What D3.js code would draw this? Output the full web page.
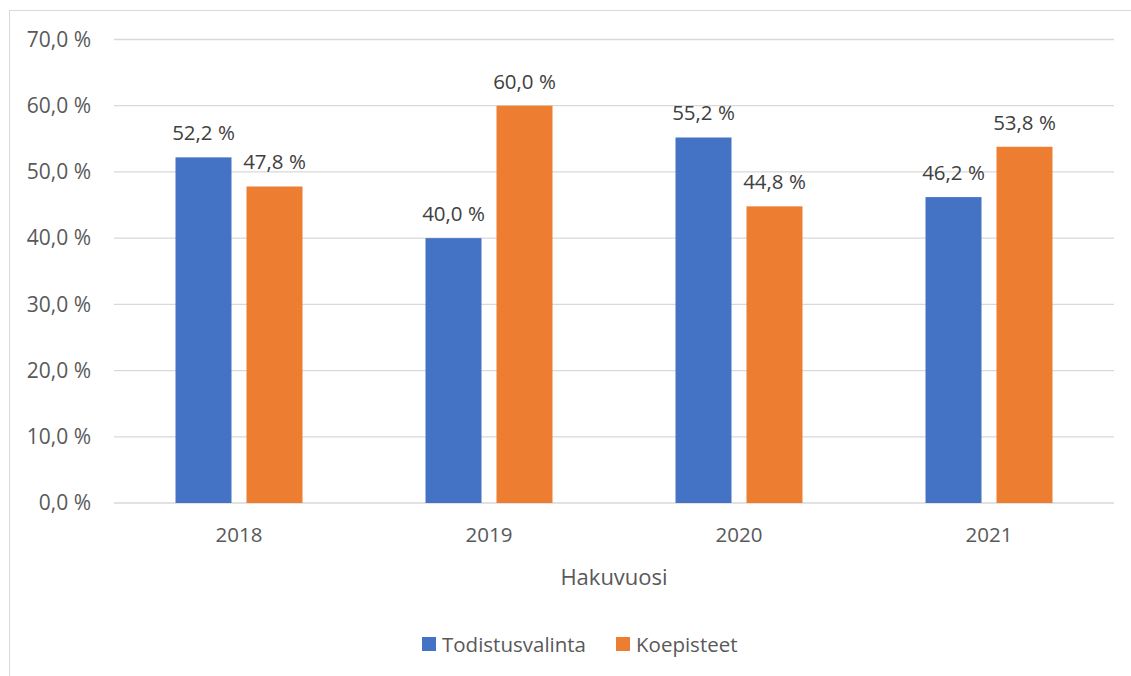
<!DOCTYPE html>
<html>
<head>
<meta charset="utf-8">
<script src="https://cdn.jsdelivr.net/npm/d3@7"></script>
<style>
  html, body { margin: 0; padding: 0; background: #fff; }
  svg { display: block; }
  text { font-family: "Open Sans", "Noto Sans", sans-serif; }
</style>
</head>
<body>
<svg id="chart" width="1131" height="676"></svg>
<script>
// Hakuvuodet ja valintatapojen osuudet (%)
const years = ["2018", "2019", "2020", "2021"];
const seriesNames = ["Todistusvalinta", "Koepisteet"];
const todistusvalinta = [52.2, 40.0, 55.2, 46.2];
const koepisteet = [47.8, 60.0, 44.8, 53.8];
const yTicks = [0, 10, 20, 30, 40, 50, 60, 70];
const colors = ["#4472C4", "#ED7D31"];

const fmt = v => v.toFixed(1).replace(".", ",") + " %";

const svg = d3.select("#chart");

// chart frame
svg.append("rect")
  .attr("x", 9.5).attr("y", 10.5)
  .attr("width", 1140).attr("height", 700)
  .attr("fill", "#fff").attr("stroke", "#d9d9d9").attr("stroke-width", 1);

const plot = { left: 114, right: 1114, top: 39.5, bottom: 503 };

const x = d3.scaleBand().domain(years).range([plot.left, plot.right]);
const y = d3.scaleLinear().domain([0, 70]).range([plot.bottom, plot.top]);

// gridlines
svg.append("g")
  .selectAll("line").data(yTicks).join("line")
  .attr("x1", plot.left).attr("x2", plot.right)
  .attr("y1", d => y(d)).attr("y2", d => y(d))
  .attr("stroke", "#d9d9d9").attr("stroke-width", 1.3);

// y axis tick labels
const yAxis = d3.axisLeft(y).tickValues(yTicks).tickFormat(fmt).tickSize(0).tickPadding(0);
const gy = svg.append("g").attr("transform", `translate(${plot.left - 23},0)`).call(yAxis);
gy.select(".domain").remove();
gy.selectAll("text")
  .attr("fill", "#595959")
  .style("font-size", "21px")
  .style("font-family", "'Open Sans', sans-serif");

// x axis labels
const xAxis = d3.axisBottom(x).tickSize(0).tickPadding(0);
const gx = svg.append("g").attr("transform", `translate(0,${plot.bottom})`).call(xAxis);
gx.select(".domain").remove();
gx.selectAll("text")
  .attr("y", 39).attr("dy", 0)
  .attr("fill", "#595959")
  .style("font-size", "20.5px")
  .style("font-family", "'Open Sans', sans-serif");

// axis title
svg.append("text")
  .attr("x", (plot.left + plot.right) / 2).attr("y", 585)
  .attr("text-anchor", "middle")
  .attr("fill", "#595959").style("font-size", "22px")
  .text("Hakuvuosi");

// bars
const barW = 56, gap = 15;
const groupOffset = (x.bandwidth() - (barW * 2 + gap)) / 2;

const data = years.map((yr, i) => ({ year: yr, values: [todistusvalinta[i], koepisteet[i]] }));

const groups = svg.append("g").selectAll("g").data(data).join("g")
  .attr("transform", d => `translate(${x(d.year) + groupOffset},0)`);

groups.selectAll("rect").data(d => d.values).join("rect")
  .attr("x", (d, j) => j * (barW + gap))
  .attr("width", barW)
  .attr("y", d => y(d))
  .attr("height", d => y(0) - y(d))
  .attr("fill", (d, j) => colors[j]);

groups.selectAll("text.lbl").data(d => d.values).join("text")
  .attr("class", "lbl")
  .attr("x", (d, j) => j * (barW + gap) + barW / 2)
  .attr("y", d => y(d) - 17)
  .attr("text-anchor", "middle")
  .attr("fill", "#404040").style("font-size", "20.5px")
  .text(d => fmt(d));

// legend
const legendItems = [
  { name: seriesNames[0], color: colors[0], x: 422 },
  { name: seriesNames[1], color: colors[1], x: 616 }
];
const lg = svg.append("g").selectAll("g").data(legendItems).join("g")
  .attr("transform", d => `translate(${d.x},637)`);
lg.append("rect").attr("width", 14).attr("height", 14).attr("fill", d => d.color);
lg.append("text").attr("x", 20).attr("y", 14.5)
  .attr("fill", "#595959").style("font-size", "20.5px")
  .text(d => d.name);
</script>
</body>
</html>
